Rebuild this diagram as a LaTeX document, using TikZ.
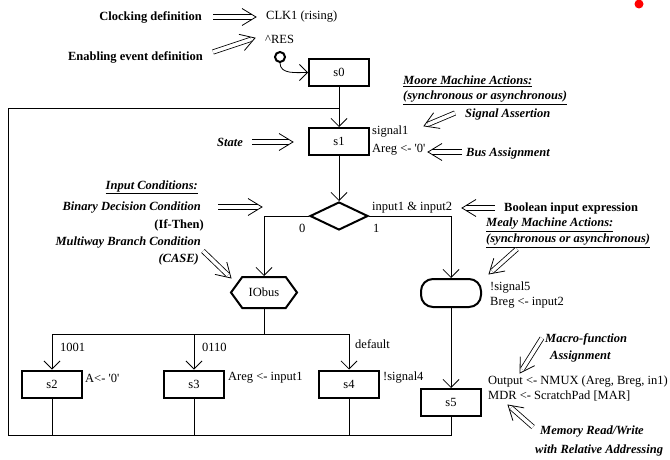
\documentclass[tikz,border=0pt]{standalone}
\usepackage{fontspec}
\setmainfont{Liberation Serif}
\usetikzlibrary{arrows.meta,shapes.geometric,shapes.symbols,decorations.markings}
\begin{document}
\begin{tikzpicture}[x=1pt,y=-1pt,
  every node/.style={font=\fontsize{12.5}{14}\selectfont, inner sep=0pt},
  bi/.style={font=\fontsize{12.5}{14}\selectfont\bfseries\itshape},
  bu/.style={font=\fontsize{12.5}{14}\selectfont\bfseries},
  stbox/.style={draw, line width=2pt, minimum width=60pt, minimum height=27pt},
  ln/.style={line width=0.8pt},
  arr/.style={ln, -{Straight Barb[length=8pt,width=16pt,line width=0.8pt]}},
  dbl/.style={double, double distance=3.5pt, line width=0.8pt, shorten >=4.3pt},
  chev/.style={decorate, decoration={markings, mark=at position 1 with {\draw[line width=0.8pt, line join=miter] (-14pt,-8.5pt) -- (0,0) -- (-14pt,8.5pt);}}}
]
\useasboundingbox (0,0) rectangle (670,460);
% red dot
\node[circle, fill=red, minimum size=9pt] (dot) at (639,4) {};
% state boxes and shapes
\node[stbox] (s0) at (339,72.5) {s0};
\node[stbox] (s1) at (339,141.5) {s1};
\node[diamond, draw, line width=2pt, minimum width=58pt, minimum height=28pt, aspect=2] (dia) at (339,216) {};
\node[signal, signal to=west and east, signal pointer angle=108, draw, line width=2pt, minimum width=66pt, minimum height=31pt] (hex) at (264,292.5) {IObus};
\node[draw, line width=2pt, rounded corners=12pt, minimum width=60pt, minimum height=28pt] (rb) at (451,293) {};
\node[stbox] (s2) at (52,384) {s2};
\node[stbox] (s3) at (194,384) {s3};
\node[stbox] (s4) at (349,384) {s4};
\node[stbox] (s5) at (451,402.5) {s5};
\node[circle, draw, line width=2pt, minimum size=10pt] (res) at (280,57) {};
% connectors
\coordinate (fbBL) at (8,435);
\coordinate (fbTL) at (8,108);
\coordinate (fbJ) at (339,108);
\coordinate (bar) at (264,334);
\draw[arr] (res.south) to[out=-90,in=180] (s0.west);
\draw[ln] (s5.south) |- (fbBL) -- (fbTL) -- (fbJ);
\draw[arr] (s0.south) -- (s1.north);
\draw[arr] (s1.south) -- (dia.north);
\draw[arr] (dia.west) -| (hex.north);
\draw[arr] (dia.east) -| (rb.north);
\draw[ln] (hex.south) -- (bar);
\draw[arr] (bar) -| (s2.north);
\draw[arr] (bar) -| (s3.north);
\draw[arr] (bar) -| (s4.north);
\draw[arr] (rb.south) -- (s5.north);
\draw[ln] (s2.south) -- (s2.south |- fbBL);
\draw[ln] (s3.south) -- (s3.south |- fbBL);
\draw[ln] (s4.south) -- (s4.south |- fbBL);
% plain labels
\node[anchor=west] (clk) at (266,17) {CLK1 (rising)};
\node[anchor=west] (reslbl) at (265,39) {\textasciicircum RES};
\node[anchor=west] (sig1) at (372,132) {signal1};
\node[anchor=west] (areg0) at (372,150) {Areg <- \textquotesingle 0\textquotesingle};
\node[anchor=west] (inexp) at (372,208) {input1 \& input2};
\node[anchor=west] (zero) at (299,228) {0};
\node[anchor=west] (one) at (373,228) {1};
\node[anchor=west] (sig5) at (490,288) {!signal5};
\node[anchor=west] (breg) at (490,303) {Breg <- input2};
\node[anchor=west] (c1001) at (60,347) {1001};
\node[anchor=west] (c0110) at (202,347) {0110};
\node[anchor=west] (cdef) at (355,344) {default};
\node[anchor=west] (a0) at (85,378) {A<- \textquotesingle 0\textquotesingle};
\node[anchor=west] (ain) at (228,378) {Areg <- input1};
\node[anchor=west] (sig4) at (383,378) {!signal4};
\node[anchor=west] (outp) at (488,382) {Output <- NMUX (Areg, Breg, in1)};
\node[anchor=west] (mdr) at (488,396) {MDR <- ScratchPad [MAR]};
% annotations
\node[bu, anchor=east] (clkdef) at (202,17) {Clocking definition};
\node[bu, anchor=east] (endef) at (203,57) {Enabling event definition};
\node[bi, anchor=west] (moore1) at (403,81) {\underline{Moore Machine Actions:}};
\node[bi, anchor=west] (moore2) at (403,98) {\underline{(synchronous or asynchronous)}};
\node[bi, anchor=west] (sigas) at (465,114) {Signal Assertion};
\node[bi, anchor=west] (busas) at (466,153) {Bus Assignment};
\node[bi, anchor=east] (state) at (243,142) {State};
\node[bi, anchor=east] (incond) at (198,187) {\underline{Input Conditions:}};
\node[bi, anchor=east] (bindec) at (201,208) {Binary Decision Condition};
\node[bu, anchor=east] (ifthen) at (204,225) {(If-Then)};
\node[bi, anchor=east] (multi) at (201,243) {Multiway Branch Condition};
\node[bi, anchor=east] (case) at (199,259) {(CASE)};
\node[bu, anchor=west] (bool) at (504,208) {Boolean input expression};
\node[bi, anchor=west] (mealy1) at (486,225) {\underline{Mealy Machine Actions:}};
\node[bi, anchor=west] (mealy2) at (486,241) {\underline{(synchronous or asynchronous)}};
\node[bi, anchor=west] (macro1) at (545,339) {Macro-function};
\node[bi, anchor=west] (macro2) at (550,356) {Assignment};
\node[bi, anchor=west] (mem1) at (540,432) {Memory Read/Write};
\node[bi, anchor=west] (mem2) at (535,450) {with Relative Addressing};
% double arrows
\coordinate (d1a) at (213,17);  \coordinate (d1b) at (256,17);
\coordinate (d2a) at (213,52);  \coordinate (d2b) at (255,38);
\coordinate (d3a) at (455,113); \coordinate (d3b) at (424,126);
\coordinate (d4a) at (462,152); \coordinate (d4b) at (428,152);
\coordinate (d5a) at (252,142); \coordinate (d5b) at (293,142);
\coordinate (d6a) at (218,207); \coordinate (d6b) at (262,207);
\coordinate (d7a) at (203,251); \coordinate (d7b) at (231,278);
\coordinate (d8a) at (495,208); \coordinate (d8b) at (462,208);
\coordinate (d9a) at (517,249); \coordinate (d9b) at (489,274);
\coordinate (d10a) at (542,338); \coordinate (d10b) at (520,373);
\coordinate (d11a) at (533,427); \coordinate (d11b) at (508,405);
\foreach \i in {1,...,11} {\draw[dbl] (d\i a) -- (d\i b); \path[chev] (d\i a) -- (d\i b);}
\end{tikzpicture}
\end{document}
